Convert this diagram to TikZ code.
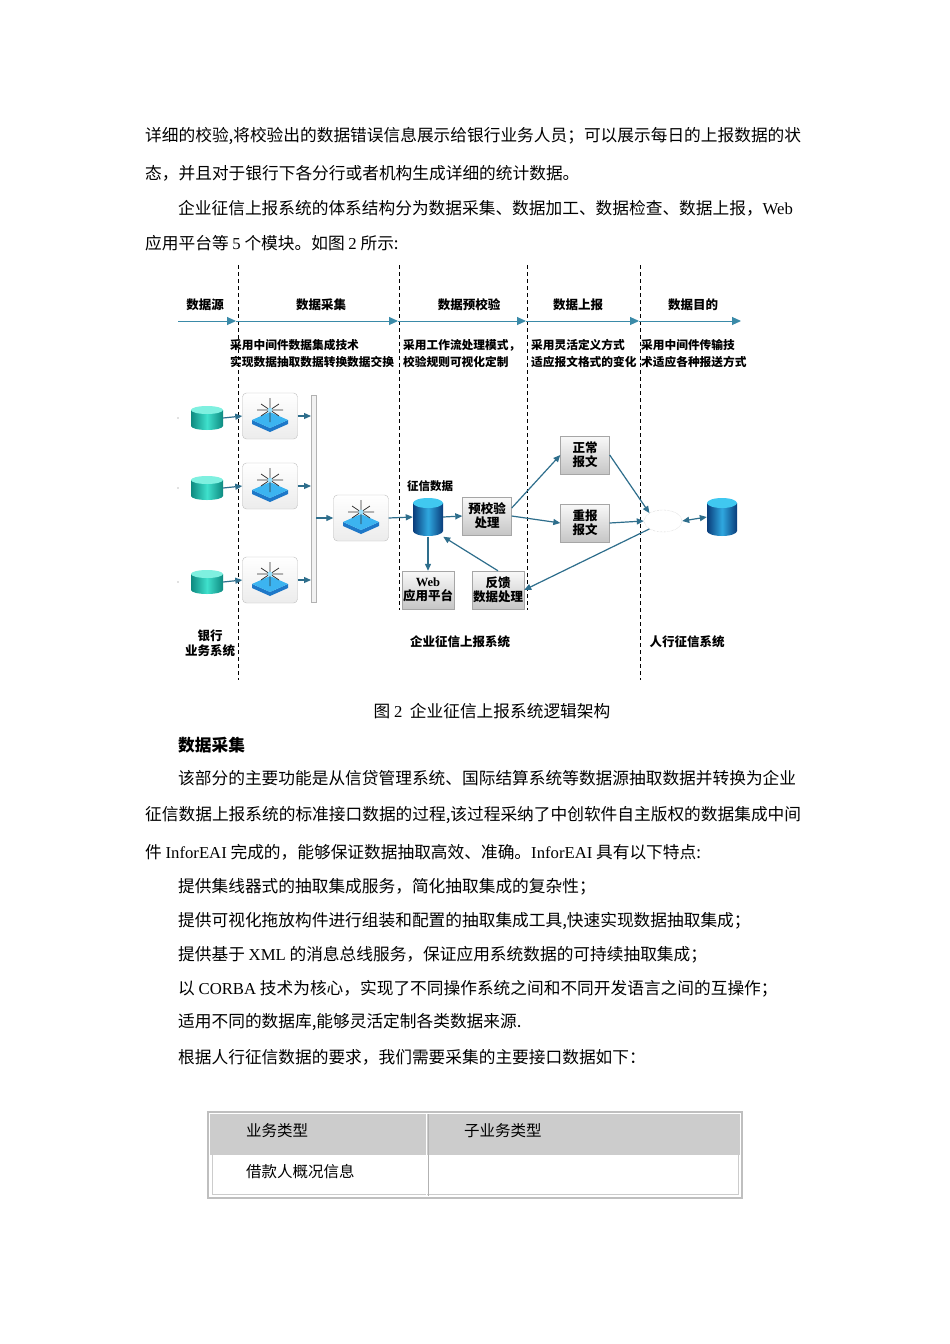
\documentclass[tikz,border=0pt]{standalone}
\usepackage{fontspec}
\setmainfont{Liberation Serif}
\newfontfamily\cjk{Noto Sans CJK SC}
\usetikzlibrary{arrows.meta,shapes.geometric,shadings,calc}
\definecolor{teal1}{HTML}{3A8AA8}
\definecolor{arr}{HTML}{2E6E8C}
\definecolor{tdk}{HTML}{0E8A80}
\definecolor{tlt}{HTML}{3FE0CC}
\definecolor{ttop}{HTML}{7FF0E0}
\definecolor{bdk}{HTML}{0A3C7A}
\definecolor{blt}{HTML}{2FA8E0}
\definecolor{btop}{HTML}{40C8F0}
\definecolor{slabtop}{HTML}{3CB4F0}
\definecolor{slabside}{HTML}{1E78C8}
\tikzset{
 body/.style={anchor=west,font=\fontsize{16.7}{18}\selectfont\cjk,inner sep=0},
 hdr/.style={font=\fontsize{12.5}{15}\selectfont\cjk\bfseries,inner sep=0},
 desc/.style={anchor=west,font=\fontsize{11.7}{13}\selectfont\cjk\bfseries,inner sep=0},
 dl/.style={dashed,line width=0.8pt,dash pattern=on 4pt off 3pt},
 ar/.style={-{Triangle[length=7pt,width=6pt]},arr,line width=1.2pt},
 comp/.style={draw=gray!50,rounded corners=4pt,top color=white,bottom color=gray!15,minimum width=55pt,minimum height=46pt,inner sep=0},
 gbox/.style={draw=gray!70,top color=gray!5,bottom color=gray!45,minimum width=49pt,minimum height=38pt,inner sep=1pt,align=center,font=\fontsize{12.5}{14}\selectfont\cjk\bfseries},
 ph/.style={draw=none,inner sep=0},
}
% explicit pt offsets: y up is positive
\newcommand{\cyl}[7]{%
 \path[left color=#5,right color=#5,middle color=#6] ($(#1)+(-#2pt,#3pt)$) -- ($(#1)+(-#2pt,-#3pt)$) arc[start angle=180,end angle=360,x radius=#2pt,y radius=#4pt] -- ($(#1)+(#2pt,#3pt)$) -- cycle;
 \fill[#7] ($(#1)+(0,#3pt)$) ellipse[x radius=#2pt,y radius=#4pt];}
\newcommand{\slab}[1]{%
 \fill[slabside] ($(#1)+(-18pt,-4pt)$) -- ($(#1)+(0,-12pt)$) -- ($(#1)+(18pt,-4pt)$) -- ($(#1)+(18pt,-8pt)$) -- ($(#1)+(0,-16pt)$) -- ($(#1)+(-18pt,-8pt)$) -- cycle;
 \fill[slabtop] ($(#1)+(-18pt,-4pt)$) -- ($(#1)+(0,4pt)$) -- ($(#1)+(18pt,-4pt)$) -- ($(#1)+(0,-12pt)$) -- cycle;
 \draw[gray!40!black,line width=0.8pt] ($(#1)+(0,-6pt)$) -- ($(#1)+(0,18pt)$) ($(#1)+(-13pt,6pt)$) -- ($(#1)+(13pt,6pt)$) ($(#1)+(-9pt,0pt)$) -- ($(#1)+(9pt,12pt)$) ($(#1)+(-9pt,12pt)$) -- ($(#1)+(9pt,0pt)$);
 \fill[cyan!40] ($(#1)+(0,6pt)$) circle (2.5pt);}
\begin{document}
\begin{tikzpicture}[x=1pt,y=-1pt]
\useasboundingbox[fill=white] (0,0) rectangle (950,1344);
\node[body] (t1) at (145,136) {详细的校验,将校验出的数据错误信息展示给银行业务人员；可以展示每日的上报数据的状};
\node[body] (t2) at (145,173) {态，并且对于银行下各分行或者机构生成详细的统计数据。};
\node[body] (t3) at (178,208) {企业征信上报系统的体系结构分为数据采集、数据加工、数据检查、数据上报，{\rmfamily Web}};
\node[body] (t4) at (145,243) {应用平台等 {\rmfamily 5} 个模块。如图 {\rmfamily 2} 所示:};
\draw[dl] (238,265) -- (238,680);
\draw[dl] (399,265) -- (399,610);
\draw[dl] (527,265) -- (527,610);
\draw[dl] (640,265) -- (640,680);
\node[hdr] (h1) at (205,305) {数据源};
\node[hdr] (h2) at (321,305) {数据采集};
\node[hdr] (h3) at (469,305) {数据预校验};
\node[hdr] (h4) at (578,305) {数据上报};
\node[hdr] (h5) at (693,305) {数据目的};
\coordinate (a0) at (178,321); \coordinate (a1) at (236,321); \coordinate (a2) at (398,321);
\coordinate (a3) at (526,321); \coordinate (a4) at (639,321); \coordinate (a5) at (741,321);
\foreach \p/\q in {a0/a1,a1/a2,a2/a3,a3/a4,a4/a5}{\draw[ar,teal1,line width=1pt,-{Triangle[length=9pt,width=8pt]}] (\p) -- (\q);}
\node[desc] (d1) at (230,345) {采用中间件数据集成技术};
\node[desc] (d2) at (230,362) {实现数据抽取数据转换数据交换};
\node[desc] (d3) at (403,345) {采用工作流处理模式，};
\node[desc] (d4) at (403,362) {校验规则可视化定制};
\node[desc] (d5) at (531,345) {采用灵活定义方式};
\node[desc] (d6) at (531,362) {适应报文格式的变化};
\node[desc] (d7) at (641,345) {采用中间件传输技};
\node[desc] (d8) at (641,362) {术适应各种报送方式};
\foreach \i/\y in {1/418,2/488,3/582}{
 \fill[gray] (178,\y) circle (0.6pt);
 \node[ph,minimum width=32pt,minimum height=25pt] (s\i) at (207,\y) {};
 \cyl{s\i}{16}{8}{4}{tdk}{tlt}{ttop}
 \node[comp] (c\i) at (270,\y-2) {};
 \slab{c\i}
 \draw[ar] (s\i.east) -- (c\i.west);
 \coordinate (b\i) at (311,\y-2);
 \draw[ar] (c\i.east) -- (b\i);
}
\node[draw=gray!60,fill=gray!10,minimum width=5pt,minimum height=207pt,inner sep=0] (bar) at (313.5,498.5) {};
\node[comp] (cc) at (361,518) {};
\slab{cc}
\draw[ar] (bar.east|-cc) -- (cc.west);
\node[ph,minimum width=30pt,minimum height=39pt] (db) at (428,517) {};
\cyl{db}{15}{14}{5}{bdk}{blt}{btop}
\node[font=\fontsize{11.5}{13}\selectfont\cjk\bfseries,inner sep=0] (dbl) at (430,486) {征信数据};
\draw[ar] (cc.east) -- (db.west);
\node[gbox] (pre) at (487,516) {预校验\\处理};
\node[gbox] (web) at (428,590) {{\rmfamily Web}\\应用平台};
\node[gbox] (fb) at (498,590) {反馈\\数据处理};
\node[gbox] (norm) at (585,455) {正常\\报文};
\node[gbox] (re) at (585,523) {重报\\报文};
\draw[ar] (db.east) -- (pre.west);
\draw[ar] (db.south) -- (web.north);
\draw[ar] (fb.north) -- (db.south east);
\draw[ar] (pre.east) ++(0,-8) -- (norm.west);
\draw[ar] (pre.east) -- (re.west);
\node[ellipse,draw=gray!50,densely dotted,fill=white,minimum width=38pt,minimum height=22pt] (cloud) at (663,521) {};
\draw[ar] (norm.east) -- (cloud.north west);
\draw[ar] (re.east) -- (cloud.west);
\draw[ar] (cloud.south west) -- (fb.east);
\node[ph,minimum width=30pt,minimum height=39pt] (db2) at (722,517) {};
\cyl{db2}{15}{14}{5}{bdk}{blt}{btop}
\draw[ar,{Triangle[length=7pt,width=6pt]}-{Triangle[length=7pt,width=6pt]}] (cloud.east) -- (db2.west);
\node[hdr,align=center] (lb1) at (210,643) {银行\\业务系统};
\node[hdr] (lb2) at (460,642) {企业征信上报系统};
\node[hdr] (lb3) at (687,642) {人行征信系统};
\node[body,anchor=center] (cap) at (492,711) {图 {\rmfamily 2}\ \ 企业征信上报系统逻辑架构};
\node[body] (s0) at (178,745) {\bfseries 数据采集};
\node[body] (l1) at (178,778) {该部分的主要功能是从信贷管理系统、国际结算系统等数据源抽取数据并转换为企业};
\node[body] (l2) at (145,815) {征信数据上报系统的标准接口数据的过程,该过程采纳了中创软件自主版权的数据集成中间};
\node[body] (l3) at (145,852) {件 {\rmfamily InforEAI} 完成的，能够保证数据抽取高效、准确。{\rmfamily InforEAI} 具有以下特点:};
\node[body] (l4) at (178,887) {提供集线器式的抽取集成服务，简化抽取集成的复杂性；};
\node[body] (l5) at (178,921) {提供可视化拖放构件进行组装和配置的抽取集成工具,快速实现数据抽取集成；};
\node[body] (l6) at (178,955) {提供基于 {\rmfamily XML} 的消息总线服务，保证应用系统数据的可持续抽取集成；};
\node[body] (l7) at (178,989) {以 {\rmfamily CORBA} 技术为核心，实现了不同操作系统之间和不同开发语言之间的互操作；};
\node[body] (l8) at (178,1022) {适用不同的数据库,能够灵活定制各类数据来源.};
\node[body] (l9) at (178,1057) {根据人行征信数据的要求，我们需要采集的主要接口数据如下：};
\fill[gray!40] (210,1114) rectangle (740,1155);
\draw[gray!50,line width=1.5pt] (208,1112) rectangle (742,1198);
\draw[white,line width=1pt] (212,1155) -- (738,1155);
\draw[gray!40,line width=1pt] (212,1116) rectangle (738,1194);
\draw[gray!60,line width=1pt] (428,1114) -- (428,1196);
\draw[white,line width=0.6pt] (426,1114) -- (426,1196);
\node[body,font=\fontsize{15.5}{18}\selectfont\cjk] (th1) at (246,1131) {业务类型};
\node[body,font=\fontsize{15.5}{18}\selectfont\cjk] (th2) at (464,1131) {子业务类型};
\node[body,font=\fontsize{15.5}{18}\selectfont\cjk] (td1) at (246,1172) {借款人概况信息};
\end{tikzpicture}
\end{document}
